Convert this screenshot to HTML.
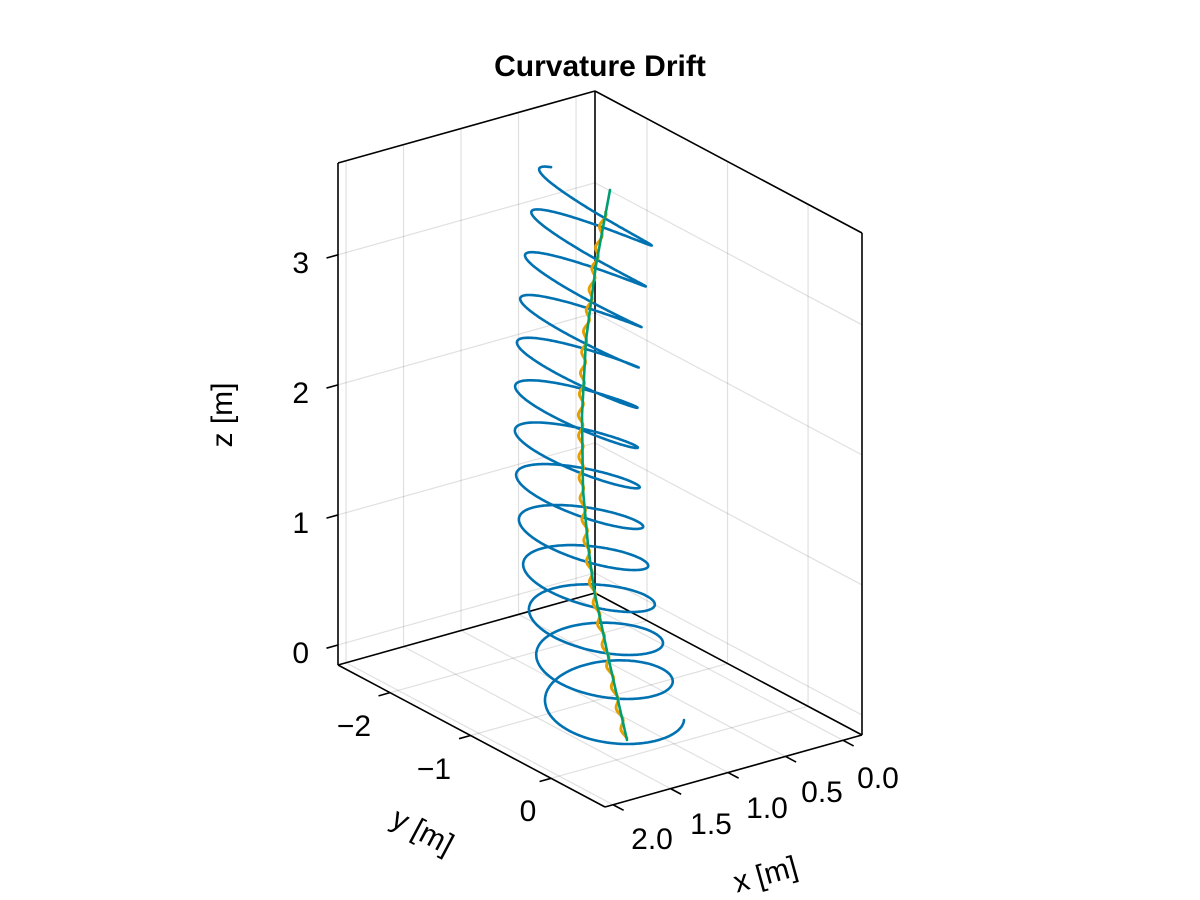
<!DOCTYPE html>
<html><head><meta charset="utf-8"><style>
html,body{margin:0;padding:0;background:#fff;}
svg{display:block;}
text{font-family:"Liberation Sans",sans-serif;fill:#000;}
</style></head><body>
<svg id="s" width="1200" height="900" xmlns="http://www.w3.org/2000/svg">
<rect width="1200" height="900" fill="#fff"/>
<g id="grid" stroke="#000" stroke-opacity="0.12" stroke-width="1.2" fill="none"></g>
<g id="box" stroke="#000" stroke-width="1.6" fill="none"></g>
<g id="data" fill="none" stroke-linecap="round" stroke-linejoin="round"></g>
<text x="600" y="76" font-size="30" font-weight="bold" text-anchor="middle">Curvature Drift</text>
<g font-size="30" text-anchor="end">
<text x="309" y="663">0</text>
<text x="309" y="533">1</text>
<text x="309" y="403">2</text>
<text x="309" y="273">3</text>
</g>
<g font-size="30" text-anchor="middle">
<text x="354" y="736">−2</text>
<text x="434" y="779">−1</text>
<text x="528" y="821">0</text>
<text x="878" y="788">0.0</text>
<text x="822" y="802">0.5</text>
<text x="767" y="818">1.0</text>
<text x="711" y="834">1.5</text>
<text x="652" y="849">2.0</text>
</g>
<text font-size="30" text-anchor="middle" transform="translate(232,415) rotate(-90)">z [m]</text>
<text font-size="30" text-anchor="middle" transform="translate(418,840) rotate(28)">y [m]</text>
<text font-size="30" text-anchor="middle" transform="translate(768,884) rotate(-15.6)">x [m]</text>
</svg>
<script>
var NS="http://www.w3.org/2000/svg";
var xmin=-0.165,xr=2.235,ymin=-2.646,yr=3.316,zmin=-0.154,zr=3.86;
function P(x,y,z){var a=(x-xmin)/xr,b=(y-ymin)/yr,c=(z-zmin)/zr;
return [595-257*a+267*b, 593+72*a+142*b-502*c];}
var xmax=xmin+xr,ymax=ymin+yr,zmax=zmin+zr;
function line(g,p,q){var l=document.createElementNS(NS,"line");
l.setAttribute("x1",p[0]);l.setAttribute("y1",p[1]);l.setAttribute("x2",q[0]);l.setAttribute("y2",q[1]);g.appendChild(l);}
var G=document.getElementById("grid"),B=document.getElementById("box"),D=document.getElementById("data");
var xs=[0,0.5,1,1.5,2],ys=[-2,-1,0],zs=[0,1,2,3];
xs.forEach(function(x){line(G,P(x,ymin,zmin),P(x,ymax,zmin));line(G,P(x,ymin,zmin),P(x,ymin,zmax));});
ys.forEach(function(y){line(G,P(xmin,y,zmin),P(xmax,y,zmin));line(G,P(xmin,y,zmin),P(xmin,y,zmax));});
zs.forEach(function(z){line(G,P(xmin,ymin,z),P(xmax,ymin,z));line(G,P(xmin,ymin,z),P(xmin,ymax,z));});
var e=[[[xmax,ymin,zmin],[xmax,ymin,zmax]],[[xmin,ymin,zmin],[xmin,ymin,zmax]],[[xmin,ymax,zmin],[xmin,ymax,zmax]],
[[xmax,ymin,zmax],[xmin,ymin,zmax]],[[xmin,ymin,zmax],[xmin,ymax,zmax]],
[[xmax,ymin,zmin],[xmin,ymin,zmin]],[[xmin,ymin,zmin],[xmin,ymax,zmin]],
[[xmax,ymin,zmin],[xmax,ymax,zmin]],[[xmax,ymax,zmin],[xmin,ymax,zmin]]];
e.forEach(function(s){line(B,P.apply(null,s[0]),P.apply(null,s[1]));});
zs.forEach(function(z){var p=P(xmax,ymin,z);line(B,p,[p[0]-11.5,p[1]+3.2]);});
ys.forEach(function(y){var p=P(xmax,y,zmin);line(B,p,[p[0]-11.5,p[1]+3.2]);});
xs.forEach(function(x){var p=P(x,ymax,zmin);line(B,p,[p[0]+10.6,p[1]+5.6]);});
function q3(b,m,t,u){var c2=2*t-4*m+2*b, c1=4*m-3*b-t; return b+c1*u+c2*u*u;}
var T=12.6,pts=[];
for(var i=0;i<=2600;i++){var n=T*i/2600,u=n/T,ph=2*Math.PI*n;
var cx=q3(617,577,598,u),rx=q3(67,62,58,u),ry=q3(33,12,5,u),tl=q3(-2,18,28,u);
var cy=722-42*n;
pts.push((cx+rx*Math.cos(ph)).toFixed(1)+","+(cy+ry*Math.sin(ph)+tl*Math.cos(ph)).toFixed(1));}
var pl=document.createElementNS(NS,"polyline");pl.setAttribute("points",pts.join(" "));
pl.setAttribute("stroke","#0072b2");pl.setAttribute("stroke-width","2.6");D.appendChild(pl);
var gp=[[610,190],[596,265],[586,340],[582,415],[583,490],[588,545],[594,590],[610,665],[627,740]];
function gx(y){for(var k=0;k<gp.length-1;k++){if(y>=gp[k][1]&&y<=gp[k+1][1]){var f=(y-gp[k][1])/(gp[k+1][1]-gp[k][1]);return gp[k][0]+f*(gp[k+1][0]-gp[k][0]);}}return gp[gp.length-1][0];}
var op=[];for(var y=212;y<=738;y+=1){op.push((gx(y)-1.5+2.2*Math.sin(y*2*Math.PI/21)).toFixed(1)+","+y);}
var o=document.createElementNS(NS,"polyline");o.setAttribute("points",op.join(" "));
o.setAttribute("stroke","#e69f00");o.setAttribute("stroke-width","3");D.appendChild(o);
var g=document.createElementNS(NS,"polyline");g.setAttribute("points",gp.map(function(p){return p.join(",");}).join(" "));
g.setAttribute("stroke","#009e73");g.setAttribute("stroke-width","2.6");D.appendChild(g);
</script>
</body></html>
